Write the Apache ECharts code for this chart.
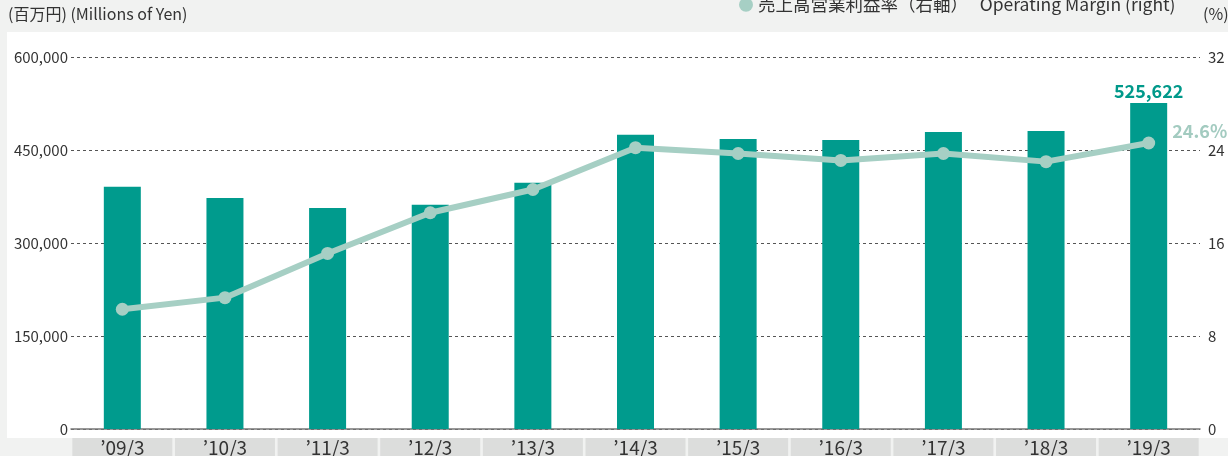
<!DOCTYPE html>
<html>
<head>
<meta charset="utf-8">
<script src="https://cdn.jsdelivr.net/npm/echarts@6/dist/echarts.min.js"></script>
<style>
  html, body { margin: 0; padding: 0; background: #f1f2f1; }
  #chart { width: 1228px; height: 456px; }
</style>
</head>
<body>
<div id="chart"></div>
<script>
// data
const years = ["’09/3", "’10/3", "’11/3", "’12/3", "’13/3", "’14/3", "’15/3", "’16/3", "’17/3", "’18/3", "’19/3"];
const sales = [390800, 372600, 356500, 361800, 397300, 474700, 467700, 466100, 479000, 480600, 525622];
const margin = [10.3, 11.3, 15.1, 18.6, 20.6, 24.2, 23.7, 23.1, 23.7, 23.0, 24.6];
const leftTicks = { min: 0, max: 600000, interval: 150000 };
const rightTicks = { min: 0, max: 32, interval: 8 };

const font = '"Noto Sans CJK JP", "Noto Sans", sans-serif';
const last = years.length - 1;

let dom = document.getElementById('chart');
let myChart = echarts.init(dom);

let options = {
    backgroundColor: '#f1f2f1',
    animation: false,
    textStyle: { fontFamily: font },
    graphic: [
        {   // white plot panel
            type: 'rect', z: -10,
            shape: { x: 7, y: 32, width: 1221, height: 406 },
            style: { fill: '#ffffff' }
        },
        {
            type: 'text', left: 8, top: 6,
            style: { text: '(百万円) (Millions of Yen)', fill: '#333', font: '16px ' + font }
        },
        {
            type: 'text', left: 1203, top: 6,
            style: { text: '(%)', fill: '#333', font: '16px ' + font }
        }
    ],
    legend: {
        left: 734,
        top: -9,
        icon: 'circle',
        itemWidth: 14,
        itemHeight: 14,
        itemGap: 6,
        data: ['売上高営業利益率（右軸）'],
        formatter: name => name + '   Operating Margin (right)',
        textStyle: { fontSize: 17.5, color: '#333', fontFamily: font }
    },
    grid: { left: 71, right: 28, top: 57, bottom: 27, outerBoundsMode: 'none' },
    xAxis: {
        type: 'category',
        data: years,
        axisTick: { show: false },
        axisLine: { lineStyle: { color: '#777', width: 1.5 } },
        axisLabel: {
            margin: 9,
            color: '#333',
            fontSize: 19,
            backgroundColor: '#dcdddc',
            width: 100,
            height: 19,
            lineHeight: 19,
            align: 'center',
            padding: [0, 0, 4, 0]
        }
    },
    yAxis: [
        {
            type: 'value',
            min: leftTicks.min, max: leftTicks.max, interval: leftTicks.interval,
            axisLine: { show: false },
            axisTick: { show: false },
            axisLabel: {
                margin: 3, color: '#333', fontSize: 15,
                formatter: v => v.toLocaleString('en-US')
            },
            splitLine: { lineStyle: { type: [3, 3], color: '#555', width: 1 } }
        },
        {
            type: 'value',
            min: rightTicks.min, max: rightTicks.max, interval: rightTicks.interval,
            axisLine: { show: false },
            axisTick: { show: false },
            axisLabel: { margin: 8, color: '#333', fontSize: 15 },
            splitLine: { show: false }
        }
    ],
    series: [
        {
            name: '売上高',
            type: 'bar',
            barWidth: 37,
            itemStyle: { color: '#009b8d' },
            data: sales.map((v, i) => i === last ? {
                value: v,
                label: {
                    show: true, position: 'top', distance: 3,
                    formatter: p => p.value.toLocaleString('en-US'),
                    color: '#00998a', fontSize: 18, fontWeight: 'bold'
                }
            } : v)
        },
        {
            name: '売上高営業利益率（右軸）',
            type: 'line',
            yAxisIndex: 1,
            symbol: 'circle',
            symbolSize: 13,
            z: 5,
            lineStyle: { color: '#a6cfc4', width: 6 },
            itemStyle: { color: '#a6cfc4' },
            data: margin.map((v, i) => i === last ? {
                value: v,
                label: {
                    show: true, position: 'right', distance: 17, offset: [0, -12],
                    formatter: p => p.value + '%',
                    color: '#a3cbc0', fontSize: 18, fontWeight: 'bold'
                }
            } : v)
        }
    ]
};

myChart.setOption(options);
</script>
</body>
</html>
